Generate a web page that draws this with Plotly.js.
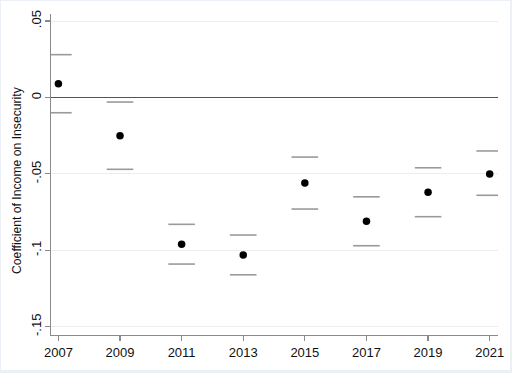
<!DOCTYPE html>
<html>
<head>
<meta charset="utf-8">
<script src="https://cdn.plot.ly/plotly-3.0.1.min.js"></script>
<style>
  html, body { margin: 0; padding: 0; background: #eaf0f6; width: 512px; height: 373px; overflow: hidden; }
  #chart { position: absolute; left: 1px; top: 1px; width: 509px; height: 369px; background: #fff; }
</style>
</head>
<body>
<div id="chart"></div>
<script>
const years = [2007, 2009, 2011, 2013, 2015, 2017, 2019, 2021];
const coef  = [0.009, -0.025, -0.096, -0.103, -0.056, -0.081, -0.062, -0.050];
const upper = [0.028, -0.003, -0.083, -0.090, -0.039, -0.065, -0.046, -0.035];
const lower = [-0.010, -0.047, -0.109, -0.116, -0.073, -0.097, -0.078, -0.064];
const yTickVals = [-0.15, -0.1, -0.05, 0, 0.05];
const yTickText = ["-.15", "-.1", "-.05", "0", ".05"];
const xTickVals = years;
const yTitle = "Coefficient of Income on Insecurity";

const capStyle = {
  symbol: 'line-ew', size: 19, color: '#9a9a9a',
  line: { color: '#9a9a9a', width: 1.6 }
};

const traces = [
  { x: years, y: upper, type: 'scatter', mode: 'markers', marker: capStyle, hoverinfo: 'skip' },
  { x: years, y: lower, type: 'scatter', mode: 'markers', marker: capStyle, hoverinfo: 'skip' },
  { x: years, y: coef, type: 'scatter', mode: 'markers',
    marker: { symbol: 'circle', size: 7.5, color: '#000' } }
];

const layout = {
  width: 509, height: 369,
  margin: { l: 50, r: 12, t: 13, b: 35 },
  paper_bgcolor: '#fff', plot_bgcolor: '#fff',
  showlegend: false,
  font: { family: 'Liberation Sans, Arial, sans-serif', size: 13, color: '#111' },
  xaxis: {
    range: [2006.76, 2021.27],
    tickvals: xTickVals,
    ticktext: xTickVals.map(String),
    showgrid: false, zeroline: false,
    showline: true, linecolor: '#8a8a8a', linewidth: 1.2,
    ticks: 'outside', ticklen: 5, tickcolor: '#8a8a8a', tickwidth: 1.2,
    tickfont: { size: 13, color: '#111' }
  },
  yaxis: {
    range: [-0.1554, 0.0546],
    tickvals: yTickVals, ticktext: yTickText,
    tickangle: -90,
    ticklabelstandoff: -1,
    showgrid: true, gridcolor: '#ededed', gridwidth: 1,
    zeroline: true, zerolinecolor: '#555', zerolinewidth: 1.6,
    showline: true, linecolor: '#8a8a8a', linewidth: 1.2,
    ticks: 'outside', ticklen: 5, tickcolor: '#8a8a8a', tickwidth: 1.2,
    tickfont: { size: 13, color: '#111' }
  },
  annotations: [{
    text: yTitle, textangle: -90, showarrow: false,
    xref: 'paper', yref: 'paper', x: 0, y: 0.483,
    xanchor: 'center', yanchor: 'middle', xshift: -34,
    font: { size: 12.2, color: '#111' }
  }]
};

Plotly.newPlot('chart', traces, layout, { staticPlot: true, displayModeBar: false });
</script>
</body>
</html>
